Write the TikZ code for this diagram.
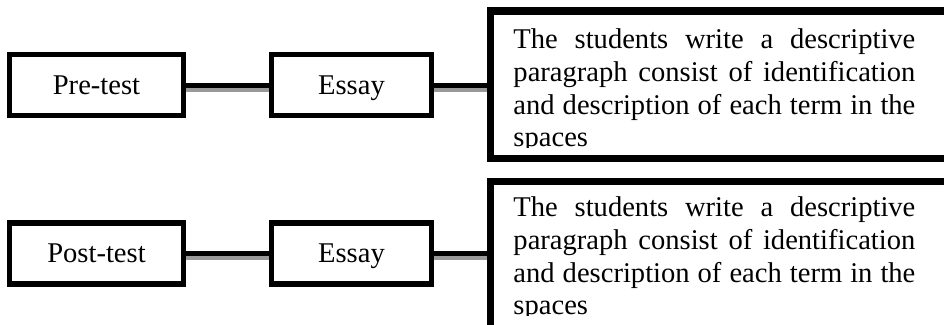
\documentclass[tikz,border=0pt]{standalone}
\usepackage{fontspec}
\setmainfont{Liberation Serif}
\usepackage{tikz}
\usetikzlibrary{positioning}

\tikzset{
    stagebox/.style={draw, line width=2.25pt, minimum width=73.1pt, minimum height=25.6pt,
        inner sep=0pt, text height=9.6pt, text depth=2pt, font=\fontsize{12}{13.8}\selectfont},
    formbox/.style={stagebox, minimum width=67.2pt},
    taskbox/.style={draw, line width=3pt, minimum width=214pt, inner sep=0pt},
    tasktext/.style={inner sep=0pt, anchor=north west, text width=168.8pt, align=justify,
        font=\fontsize{12}{13.8}\selectfont},
    link/.style={line width=2.1pt,
        preaction={draw=black!40, line width=1.7pt, transform canvas={yshift=-1.9pt}}}
}

\begin{document}
\begin{tikzpicture}[x=0.42pt, y=-0.42pt]
    \clip (0, 0) rectangle (944, 325);

    % pre-test row
    \node [stagebox] (pre) at (96.5, 85) {Pre-test};
    \node [formbox] (essayA) at (351.5, 85) {Essay};
    \node [taskbox, minimum height=62pt] (descA) at (745, 84.75) {};
    \begin{scope}
        \clip (494, 15) rectangle (944, 147);
        \node [tasktext] (textA) at (513, 28) {The students write a descriptive\linebreak
            paragraph consist of identification\linebreak
            and description of each term in the\linebreak spaces};
    \end{scope}

    \draw [link] (pre.east) -- (essayA.west);
    \draw [link] (essayA.east) -- (essayA.east -| descA.west);

    % post-test row
    \node [stagebox] (post) at (96.5, 253.5) {Post-test};
    \node [formbox] (essayB) at (351.5, 253.5) {Essay};
    \node [taskbox, minimum height=67.2pt] (descB) at (745, 261.5) {};
    \begin{scope}
        \clip (494, 185) rectangle (944, 315);
        \node [tasktext] (textB) at (513, 196) {The students write a descriptive\linebreak
            paragraph consist of identification\linebreak
            and description of each term in the\linebreak spaces};
    \end{scope}

    \draw [link] (post.east) -- (essayB.west);
    \draw [link] (essayB.east) -- (essayB.east -| descB.west);
\end{tikzpicture}
\end{document}
